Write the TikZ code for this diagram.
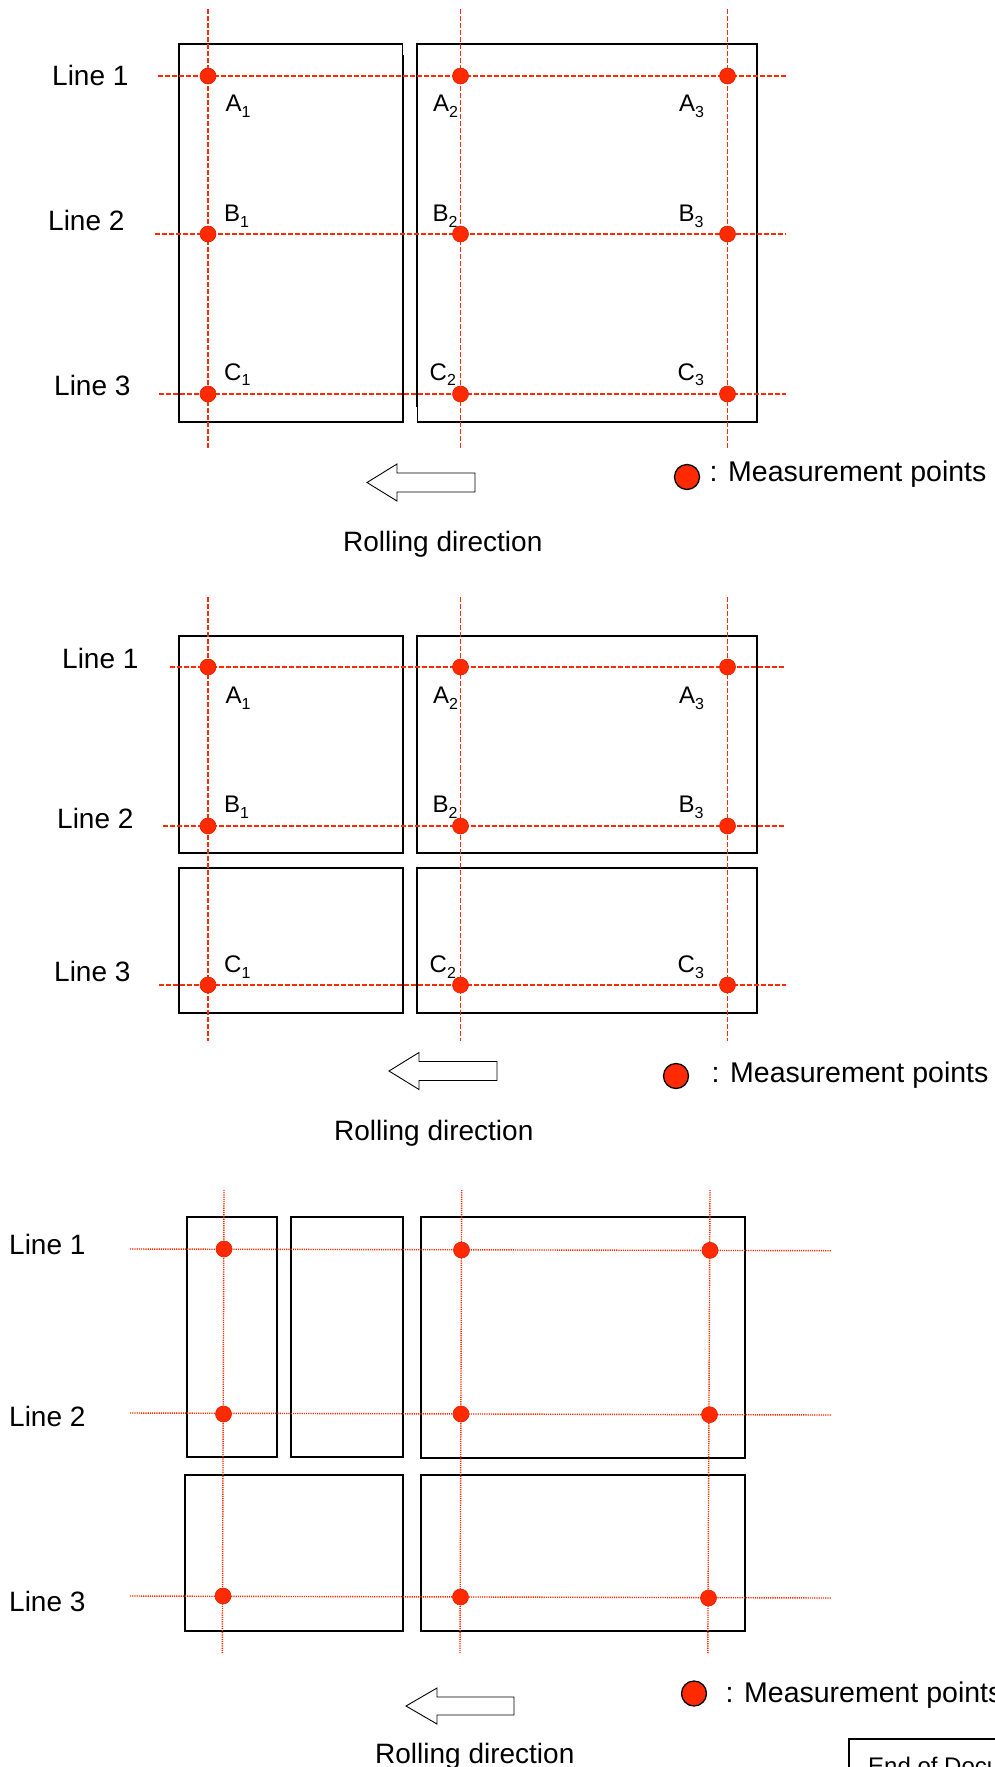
\documentclass[tikz,border=0pt]{standalone}
\usepackage{fontspec}
\setmainfont{Liberation Sans}
\definecolor{mred}{HTML}{FF2A00}
\definecolor{mredd}{HTML}{E02200}
\tikzset{
  rect/.style={draw=black, line width=2.6pt},
  rectthin/.style={draw=black, line width=1.9pt},
  dashline/.style={draw=mred, line width=1.5pt, dash pattern=on 4.5pt off 2.5pt},
  dotline/.style={draw=mred, line width=1.4pt, dash pattern=on 1.2pt off 1pt},
  mpt/.style={circle, fill=mred, draw=mredd, line width=0.6pt, minimum size=16pt, inner sep=0pt},
  legdot/.style={circle, fill=mred, draw=black, line width=1.3pt, minimum size=25pt, inner sep=0pt},
  linelbl/.style={anchor=base west, inner sep=0pt, font=\fontsize{28}{30}\selectfont},
  legtxt/.style={anchor=base west, inner sep=0pt, font=\fontsize{28.5}{30}\selectfont},
  ptlbl/.style={anchor=base west, inner sep=0pt, font=\fontsize{24}{26}\selectfont},
  dirarrow/.style={draw=black, fill=white, line width=0.9pt, line join=miter},
}
\newcommand{\subl}[2]{#1{\fontsize{16}{16}\selectfont\raisebox{-5.7pt}{#2}}}
\begin{document}
\begin{tikzpicture}[x=1pt,y=-1pt]
\useasboundingbox (0,0) rectangle (995,1767);
\fill[white] (0,0) rectangle (995,1767);
\begin{scope}
\clip (0,0) rectangle (995,1767);

% ================= Panel 1 =================
\draw[rect] (403,55) -- (403,422) -- (179,422) -- (179,44) -- (403,44);
\draw[black, line width=0.8pt] (402,44) -- (402,56);
\draw[rect] (417,407) -- (417,44) -- (757,44) -- (757,422) -- (417,422);
\draw[black, line width=0.8pt] (417,406) -- (417,422);

\draw[dashline] (158,76) -- (786,76);
\draw[dashline] (155,234) -- (786,234);
\draw[dashline] (159,394) -- (786,394);
\draw[dashline] (208,9) -- (208,449);
\draw[dashline] (460.5,9) -- (460.5,449);
\draw[dashline] (727.5,9) -- (727.5,449);

\foreach \yy/\r in {76/a,234/b,394/c}{
  \node[mpt] (p1\r1) at (208,\yy) {};
  \node[mpt] (p1\r2) at (460.5,\yy) {};
  \node[mpt] (p1\r3) at (727.5,\yy) {};
}

\node[linelbl] (p1l1) at (52,85) {Line 1};
\node[linelbl] (p1l2) at (48,230) {Line 2};
\node[linelbl] (p1l3) at (54,395.7) {Line 3};

\node[ptlbl] (p1ta1) at (225.5,111.7) {\subl{A}{1}};
\node[ptlbl] (p1ta2) at (433,111.7) {\subl{A}{2}};
\node[ptlbl] (p1ta3) at (679,111.7) {\subl{A}{3}};
\node[ptlbl] (p1tb1) at (224,221.7) {\subl{B}{1}};
\node[ptlbl] (p1tb2) at (432.5,221.7) {\subl{B}{2}};
\node[ptlbl] (p1tb3) at (678.5,221.7) {\subl{B}{3}};
\node[ptlbl] (p1tc1) at (224,380) {\subl{C}{1}};
\node[ptlbl] (p1tc2) at (429.5,380) {\subl{C}{2}};
\node[ptlbl] (p1tc3) at (677.5,380) {\subl{C}{3}};

\draw[dirarrow] (367,482.5) -- ++(30,-18.5) -- ++(0,9) -- ++(78,0) -- ++(0,19) -- ++(-78,0) -- ++(0,9) -- cycle;
\node[linelbl] (p1rd) at (343,551) {Rolling direction};
\node[legdot] (p1leg) at (687,477) {};
\node[legtxt] (p1legt) at (709.5,481) {: Measurement points};

% ================= Panel 2 =================
\draw[rect] (179,636) rectangle (403,853);
\draw[rect] (179,868) rectangle (403,1013);
\draw[rect] (417,636) rectangle (757,853);
\draw[rect] (417,868) rectangle (757,1013);

\draw[dashline] (170,667) -- (786,667);
\draw[dashline] (163,826) -- (786,826);
\draw[dashline] (159,985) -- (786,985);
\draw[dashline] (208,597) -- (208,1041);
\draw[dashline] (460.5,597) -- (460.5,1041);
\draw[dashline] (727.5,597) -- (727.5,1041);

\foreach \yy/\r in {667/a,826/b,985/c}{
  \node[mpt] (p2\r1) at (208,\yy) {};
  \node[mpt] (p2\r2) at (460.5,\yy) {};
  \node[mpt] (p2\r3) at (727.5,\yy) {};
}

\node[linelbl] (p2l1) at (62,668.3) {Line 1};
\node[linelbl] (p2l2) at (57,828.3) {Line 2};
\node[linelbl] (p2l3) at (54,981.7) {Line 3};

\node[ptlbl] (p2ta1) at (225.5,703.3) {\subl{A}{1}};
\node[ptlbl] (p2ta2) at (433,703.3) {\subl{A}{2}};
\node[ptlbl] (p2ta3) at (679,703.3) {\subl{A}{3}};
\node[ptlbl] (p2tb1) at (224,812.7) {\subl{B}{1}};
\node[ptlbl] (p2tb2) at (432.5,812.7) {\subl{B}{2}};
\node[ptlbl] (p2tb3) at (678.5,812.7) {\subl{B}{3}};
\node[ptlbl] (p2tc1) at (224,972.3) {\subl{C}{1}};
\node[ptlbl] (p2tc2) at (429.5,972.3) {\subl{C}{2}};
\node[ptlbl] (p2tc3) at (677.5,972.3) {\subl{C}{3}};

\draw[dirarrow] (389,1071) -- ++(30,-18.5) -- ++(0,9) -- ++(78,0) -- ++(0,19) -- ++(-78,0) -- ++(0,9) -- cycle;
\node[linelbl] (p2rd) at (334,1140) {Rolling direction};
\node[legdot] (p2leg) at (676,1076) {};
\node[legtxt] (p2legt) at (711.5,1082) {: Measurement points};

% ================= Panel 3 =================
\draw[rectthin] (187,1217) rectangle (277,1457);
\draw[rectthin] (291,1217) rectangle (403,1457);
\draw[rectthin] (421,1217) rectangle (745,1458);
\draw[rectthin] (185,1475) rectangle (403,1631);
\draw[rectthin] (421,1475) rectangle (745,1631);

\draw[dotline] (130,1249) -- (831,1250.7);
\draw[dotline] (130,1413) -- (831,1415);
\draw[dotline] (130,1596) -- (831,1598);
\draw[dotline] (224,1190) -- (222.3,1653);
\draw[dotline] (461.7,1190) -- (460,1653);
\draw[dotline] (710,1190) -- (707.8,1653);

\node[mpt] (p3a1) at (224,1249) {};
\node[mpt] (p3a2) at (461.5,1250) {};
\node[mpt] (p3a3) at (710,1250.3) {};
\node[mpt] (p3b1) at (223.5,1414) {};
\node[mpt] (p3b2) at (461,1414) {};
\node[mpt] (p3b3) at (709.5,1414.7) {};
\node[mpt] (p3c1) at (223,1596) {};
\node[mpt] (p3c2) at (460.5,1597) {};
\node[mpt] (p3c3) at (708.5,1598) {};

\node[linelbl] (p3l1) at (9,1254) {Line 1};
\node[linelbl] (p3l2) at (9,1426.7) {Line 2};
\node[linelbl] (p3l3) at (9,1611.7) {Line 3};

\draw[dirarrow] (406,1706) -- ++(31,-18) -- ++(0,9) -- ++(77,0) -- ++(0,18) -- ++(-77,0) -- ++(0,9) -- cycle;
\node[linelbl] (p3rd) at (375,1763) {Rolling direction};
\node[legdot] (p3leg) at (694,1693.5) {};
\node[legtxt] (p3legt) at (725.5,1702) {: Measurement points};

\draw[black, line width=1.3pt] (849,1739) rectangle (1010,1800);
\node[ptlbl] (eod) at (868,1774) {End of Document};
\end{scope}
\end{tikzpicture}
\end{document}
